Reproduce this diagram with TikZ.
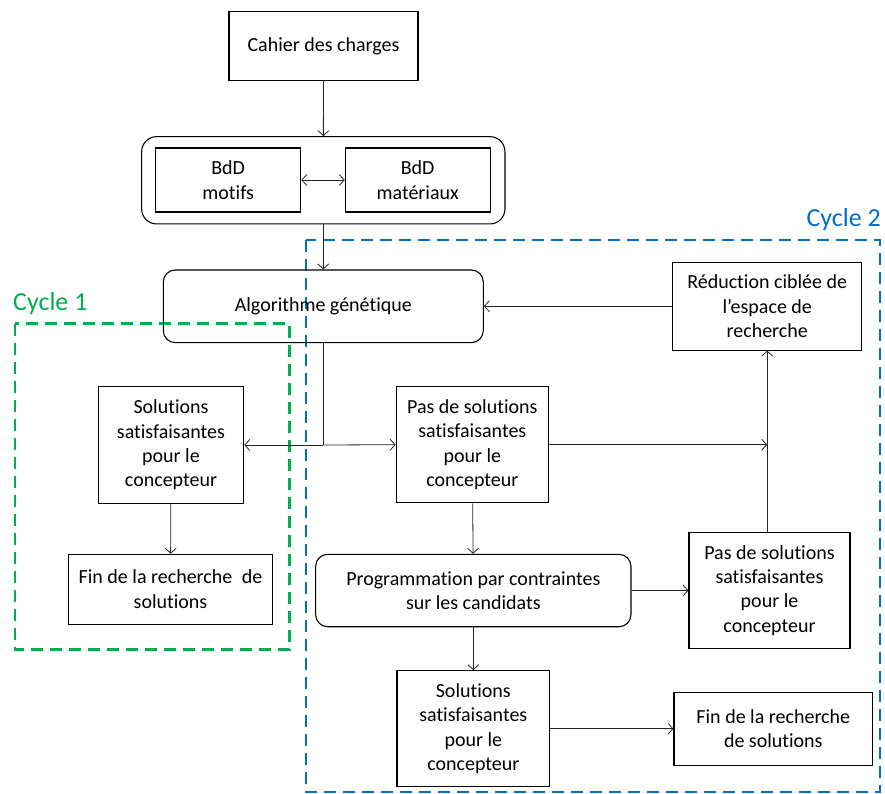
\documentclass[tikz,border=0pt]{standalone}
\usepackage{fontspec}
\setmainfont{Carlito}[Ligatures=NoCommon]
\usetikzlibrary{arrows.meta,calc}
\definecolor{cyclegreen}{RGB}{0,176,80}
\definecolor{cycleblue}{RGB}{0,112,192}
\begin{document}
\begin{tikzpicture}[x=1pt,y=-1pt,
  font=\fontsize{20}{24.4}\selectfont,
  box/.style={draw=black,line width=1.1pt,inner sep=0pt,align=center,minimum width=#1},
  rbox/.style={box=#1,rounded corners=12pt},
  conn/.style={line width=0.8pt,draw=black!85},
  arr/.style={conn,-{Straight Barb[length=5pt,width=11pt,line width=0.8pt]}},
  darr/.style={conn,{Straight Barb[length=5pt,width=11pt,line width=0.8pt]}-{Straight Barb[length=5pt,width=11pt,line width=0.8pt]}},
  cyclebox/.style={line width=2.8pt,dash pattern=on 12pt off 7pt},
  cyclelabel/.style={font=\fontsize{26}{30}\selectfont,inner sep=0pt}
]
\useasboundingbox (0,0) rectangle (885,794);

% cycle frames
\draw[cyclebox,draw=cycleblue] (306,240) rectangle (880,792);
\node[cyclelabel,text=cycleblue,anchor=east] (c2) at (881,220) {Cycle 2};
\draw[cyclebox,draw=cyclegreen] (15,323.5) rectangle (289.5,649.5);
\node[cyclelabel,text=cyclegreen,anchor=west] (c1) at (13,304) {Cycle 1};

% nodes
\node[box=189pt,minimum height=69pt] (cahier) at (323.5,46.2) {Cahier des charges};
\node[box=363.3pt,minimum height=87.3pt,rounded corners=15pt] (bdd) at (323.3,180.3) {};
\node[box=145pt,minimum height=64pt] (motifs) at (228.2,180) {BdD\\motifs};
\node[box=144.7pt,minimum height=64pt] (mat) at (417.7,180) {BdD\\matériaux};
\node[rbox=320pt,minimum height=72.7pt] (algo) at (323.3,306.3) {Algorithme génétique};
\node[box=145.4pt,minimum height=116.6pt] (sol1) at (171,445) {Solutions\\satisfaisantes\\pour le\\concepteur};
\node[box=204.4pt,minimum height=70pt] (fin1) at (170.5,589.3) {Fin de la recherche\hspace{0.25em} de\\solutions};
\node[box=152.3pt,minimum height=116pt] (pas1) at (472.3,444.7) {Pas de solutions\\satisfaisantes\\pour le\\concepteur};
\node[box=189pt,minimum height=87.7pt] (reduc) at (767.2,306.2) {Réduction ciblée de\\l’espace de\\recherche};
\node[rbox=315.3pt,minimum height=72.4pt] (prog) at (473.3,590.5) {Programmation par contraintes\\sur les candidats};
\node[box=161pt,minimum height=116pt] (pas2) at (769.5,590.3) {Pas de solutions\\satisfaisantes\\pour le\\concepteur};
\node[box=152.7pt,minimum height=116pt] (sol2) at (473.3,728.7) {Solutions\\satisfaisantes\\pour le\\concepteur};
\node[box=198.6pt,minimum height=72.7pt] (fin2) at (773.3,728.7) {Fin de la recherche\\de solutions};

% connectors
\draw[arr] (cahier) -- (bdd);
\draw[darr] (motifs) -- (mat);
\draw[arr] (bdd) -- (algo);
\coordinate (j1) at (algo.south |- sol1.east);
\draw[conn,line width=1.1pt] (algo.south) -- (j1);
\draw[arr] (j1) -- (sol1.east);
\draw[arr] (j1) -- (pas1.west);
\draw[arr] (sol1) -- (fin1);
\coordinate (j2) at (reduc.south |- pas1.east);
\draw[arr] (pas1.east) -- (j2);
\draw[arr] (reduc.south |- pas2.north) -- (reduc.south);
\draw[arr] (reduc.west) -- (algo.east |- reduc.west);
\draw[arr] (pas1) -- (prog);
\draw[arr] (prog) -- (pas2.west |- prog.east);
\draw[arr] (prog) -- (sol2);
\draw[arr] (sol2.east) -- (fin2.west |- sol2.east);
\end{tikzpicture}
\end{document}
